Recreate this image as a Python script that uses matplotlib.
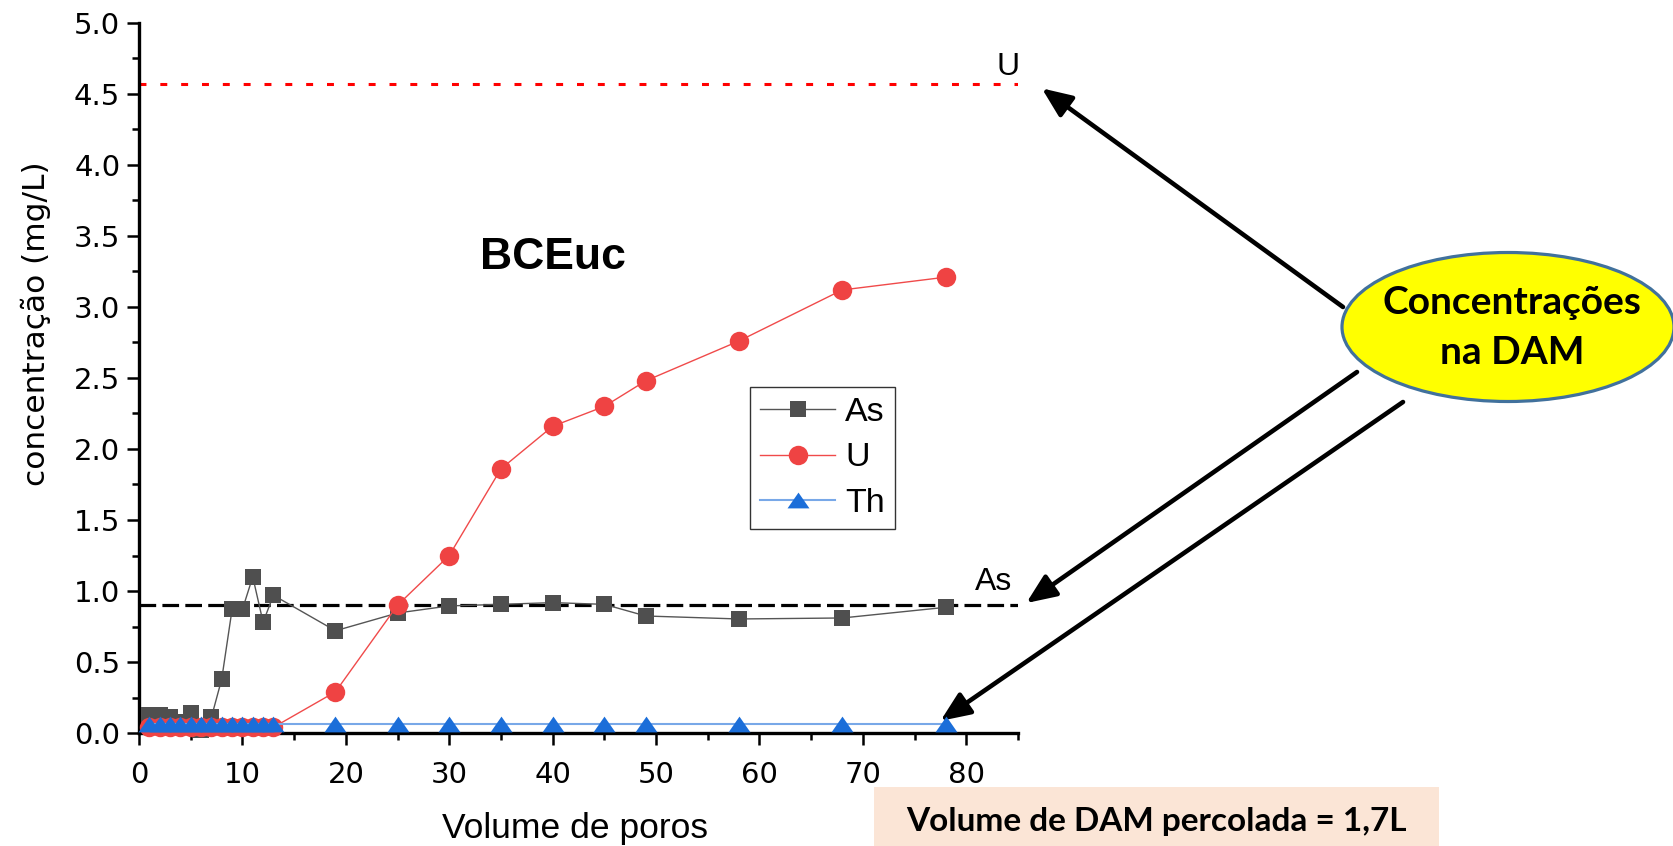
import numpy as np
import matplotlib
matplotlib.use("Agg")
import matplotlib.pyplot as plt
from matplotlib.patches import Ellipse, Rectangle
from matplotlib.ticker import MultipleLocator

# pore volumes and concentrations (mg/L)
vol = [1, 2, 3, 4, 5, 6, 7, 8, 9, 10, 11, 12, 13, 19, 25, 30, 35, 40, 45, 49, 58, 68, 78]
conc_as = [0.13, 0.13, 0.11, 0.08, 0.14, 0.02, 0.11, 0.38, 0.87, 0.87, 1.10, 0.78, 0.97,
           0.72, 0.845, 0.895, 0.906, 0.918, 0.906, 0.824, 0.803, 0.81, 0.885]
conc_u = [0.04, 0.04, 0.04, 0.04, 0.04, 0.04, 0.04, 0.04, 0.04, 0.04, 0.04, 0.04, 0.04,
          0.29, 0.90, 1.25, 1.86, 2.16, 2.30, 2.48, 2.76, 3.12, 3.21]
conc_th = [0.06] * len(vol)

# limits of the acid mine drainage (DAM)
lim_u = 4.57
lim_as = 0.90

plt.rcParams['lines.scale_dashes'] = False

fig = plt.figure(figsize=(16.73, 8.46), dpi=100)
ax = fig.add_axes([139 / 1673, 1 - 733 / 846, 879 / 1673, 710 / 846])

ax.axhline(lim_u, color='#ff0000', lw=2.2, dashes=(5, 10), zorder=1.5)
ax.axhline(lim_as, color='black', lw=2.3, dashes=(12, 4.5), zorder=1.5)

tri = [(-1, -0.72), (1, -0.72), (0, 0.72)]
ax.plot(vol, conc_as, color='#555555', lw=1, marker='s', ms=11.5, mfc='#4f4f4f',
        mew=0, label='As', clip_on=False, zorder=3)
ax.plot(vol, conc_u, color='#f04a4a', lw=1, marker='o', ms=14, mfc='#ef4343',
        mew=0, label='U', clip_on=False, zorder=4)
ax.plot(vol, conc_th, color='#78a8e8', lw=1.5, marker=tri, ms=15.8, mfc='#1b6ed9',
        mew=0, label='Th', clip_on=False, zorder=5)

ax.set_xlim(0, 85)
ax.set_ylim(0, 5)
ax.xaxis.set_major_locator(MultipleLocator(10))
ax.xaxis.set_minor_locator(MultipleLocator(5))
ax.yaxis.set_major_locator(MultipleLocator(0.5))
ax.yaxis.set_minor_locator(MultipleLocator(0.25))
ax.set_xticks(np.arange(0, 81, 10))
ax.yaxis.set_major_formatter(matplotlib.ticker.FormatStrFormatter('%.1f'))

for s in ['top', 'right']:
    ax.spines[s].set_visible(False)
for s in ['left', 'bottom']:
    ax.spines[s].set_linewidth(2.4)
ax.tick_params(which='major', direction='out', length=8.5, width=1.8, labelsize=21)
ax.tick_params(which='minor', direction='out', length=5, width=1.8)
ax.tick_params(axis='x', which='major', pad=12)
ax.tick_params(axis='y', which='major', pad=5)
for lab in ax.get_xticklabels() + ax.get_yticklabels():
    lab.set_fontfamily('DejaVu Sans')

ax.set_xlabel('Volume de poros', fontsize=25.5, family='Liberation Sans', va='center')
ax.xaxis.set_label_coords(0.496, -0.134)
ax.set_ylabel('concentração (mg/L)', fontsize=22.5, family='DejaVu Sans', va='center')
ax.yaxis.set_label_coords(-0.117, 0.577)

ax.text(40, 3.35, 'BCEuc', fontsize=32, fontweight='bold', family='Liberation Sans',
        ha='center', va='center')
ax.text(84.0, lim_u + 0.12, 'U', fontsize=23, family='Liberation Sans',
        ha='center', va='center', clip_on=False)
ax.text(82.6, lim_as + 0.16, 'As', fontsize=23, family='Liberation Sans',
        ha='center', va='center', clip_on=False)

leg = ax.legend(loc='upper left', bbox_to_anchor=(750 / 1673, 1 - 387 / 846),
                bbox_transform=fig.transFigure, borderaxespad=0, fancybox=False,
                edgecolor='#333333', framealpha=1, handlelength=2.2,
                handletextpad=0.3, borderpad=0.3, labelspacing=0.42,
                prop={'family': 'Liberation Sans', 'size': 24.5})
leg.get_frame().set_linewidth(1.0)

# callout ellipse with arrows to the limits
ell = Ellipse((1508 / 1673, 1 - 327 / 846), 332 / 1673, 149 / 846,
              transform=fig.transFigure, facecolor='#ffff00', edgecolor='#41719c',
              lw=2.3, zorder=10)
fig.add_artist(ell)
fig.text(1512 / 1673, 1 - 302 / 846, 'Concentrações', fontsize=28, fontweight='bold',
         family='Lato', ha='center', va='center', zorder=11)
fig.text(1512 / 1673, 1 - 352 / 846, 'na DAM', fontsize=28, fontweight='bold',
         family='Lato', ha='center', va='center', zorder=11)

arrow = dict(arrowstyle='-|>,head_length=0.9,head_width=0.38', color='black',
             lw=3.3, mutation_scale=20, shrinkA=0, shrinkB=0)
tails = [(1343, 307), (1357, 372), (1403, 402)]
heads = [(87.3, lim_u - 0.03), (85.8, lim_as + 0.015), (vol[-1] - 0.5, conc_th[-1] + 0.025)]
for (tx, ty), hd in zip(tails, heads):
    ax.annotate('', xy=hd, xycoords='data', xytext=(tx / 1673, 1 - ty / 846),
                textcoords='figure fraction', arrowprops=arrow, annotation_clip=False)

# note box on the bottom
fig.add_artist(Rectangle((874 / 1673, 0), 565 / 1673, 59 / 846, transform=fig.transFigure,
                         facecolor='#fbe5d6', edgecolor='none'))
fig.text(1156 / 1673, 1 - 821 / 846, 'Volume de DAM percolada = 1,7L', fontsize=24,
         fontweight='bold', family='Lato', ha='center', va='center')

fig.savefig('out.png', dpi=100)
